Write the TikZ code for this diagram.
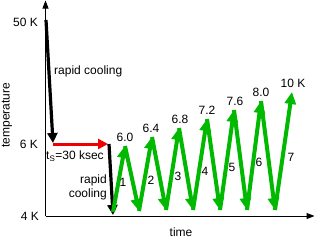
\documentclass[tikz,border=0pt]{standalone}
\usepackage{fontspec}
\setmainfont{Liberation Sans}
\usetikzlibrary{arrows.meta}
\definecolor{grn}{RGB}{0,185,0}
\definecolor{rd}{RGB}{238,0,0}
\begin{document}
\begin{tikzpicture}[x=1pt,y=-1pt,
  font=\fontsize{12}{14}\selectfont,
  axisline/.style={line width=1pt,-{Triangle[length=8pt,width=6pt]}},
  coolline/.style={line width=3.2pt,-{Triangle[length=10pt,width=10pt]}},
  holdline/.style={rd,line width=3pt,-{Triangle[length=10pt,width=10pt]}},
  heatline/.style={grn,line width=4pt,-{Triangle[length=12pt,width=11pt]}},
  lbl/.style={inner sep=0pt}]
\useasboundingbox (0,0) rectangle (315,241);
% axes
\coordinate (O) at (45.5,216);
\coordinate (ytop) at (45.5,0.5);
\coordinate (xend) at (314.5,216);
\draw[axisline] (O) -- (ytop);
\draw[axisline] (O) -- (xend);
% axis labels
\node[lbl,anchor=east] (l50) at (38,22) {50 K};
\node[lbl,anchor=east] (l6) at (38,144) {6 K};
\node[lbl,anchor=east] (l4) at (39,216) {4 K};
\node[lbl,rotate=90] (ty) at (7,115) {temperature};
\node[lbl] (tx) at (181,232) {time};
% cooling and hold
\coordinate (a50) at (46,20);
\coordinate (a6) at (53,143);
\coordinate (h0) at (53,144);
\coordinate (h1) at (108,144);
\coordinate (c0) at (109,144);
\coordinate (c1) at (113,215);
\draw[coolline] (a50) -- (a6);
\draw[holdline] (h0) -- (h1);
\draw[coolline] (c0) -- (c1);
\node[lbl,anchor=west] (rc1) at (54,71) {rapid cooling};
\node[lbl,anchor=west] (ts) at (46,156) {t\textsubscript{S}=30 ksec};
\node[lbl,anchor=east] (rc2a) at (107,180) {rapid};
\node[lbl,anchor=east] (rc2b) at (107,194) {cooling};
% zigzag points
\coordinate (v0) at (113,212);
\coordinate (p1) at (125,146);
\coordinate (v1) at (139,211);
\coordinate (p2) at (152,137);
\coordinate (v2) at (166,210);
\coordinate (p3) at (179,128);
\coordinate (v3) at (193,210);
\coordinate (p4) at (207,119);
\coordinate (v4) at (220,210);
\coordinate (p5) at (234,110);
\coordinate (v5) at (247,210);
\coordinate (p6) at (261,101);
\coordinate (v6) at (275,210);
\coordinate (p7) at (292,92);
\draw[heatline] (v0) -- (p1);
\draw[heatline] (p1) -- (v1);
\draw[heatline] (v1) -- (p2);
\draw[heatline] (p2) -- (v2);
\draw[heatline] (v2) -- (p3);
\draw[heatline] (p3) -- (v3);
\draw[heatline] (v3) -- (p4);
\draw[heatline] (p4) -- (v4);
\draw[heatline] (v4) -- (p5);
\draw[heatline] (p5) -- (v5);
\draw[heatline] (v5) -- (p6);
\draw[heatline] (p6) -- (v6);
\draw[heatline] (v6) -- (p7);
% peak labels
\node[lbl] (t1) at (125,137) {6.0};
\node[lbl] (t2) at (151,128) {6.4};
\node[lbl] (t3) at (180,119) {6.8};
\node[lbl] (t4) at (207,110) {7.2};
\node[lbl] (t5) at (235,101) {7.6};
\node[lbl] (t6) at (261,92) {8.0};
\node[lbl] (t7) at (293,83) {10 K};
% cycle numbers
\node[lbl] (n1) at (123,182) {1};
\node[lbl] (n2) at (151,180) {2};
\node[lbl] (n3) at (178,176) {3};
\node[lbl] (n4) at (205,171) {4};
\node[lbl] (n5) at (232,167) {5};
\node[lbl] (n6) at (259,162) {6};
\node[lbl] (n7) at (291,157) {7};
\end{tikzpicture}
\end{document}
